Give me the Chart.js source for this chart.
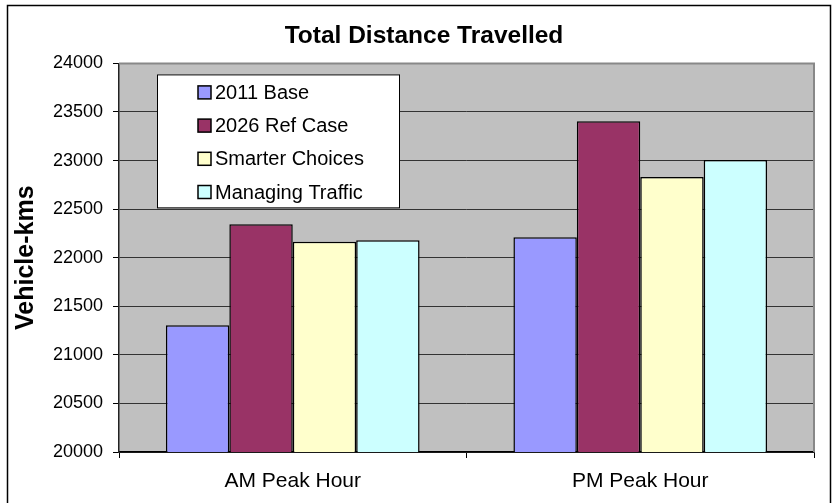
<!DOCTYPE html>
<html>
<head>
<meta charset="utf-8">
<script src="https://cdn.jsdelivr.net/npm/chart.js@4"></script>
<style>
  html, body { margin: 0; padding: 0; background: #fff; }
  #wrap { width: 832px; height: 503px; }
</style>
</head>
<body>
<div id="wrap"><canvas id="c" width="832" height="503"></canvas></div>
<script>
// Vehicle-kms by peak hour and scenario
const categories = ['AM Peak Hour', 'PM Peak Hour'];
const base2011 = [21305, 22210];
const refCase2026 = [22345, 23405];
const smarterChoices = [22165, 22830];
const managingTraffic = [22180, 23005];
const yTicks = [20000, 20500, 21000, 21500, 22000, 22500, 23000, 23500, 24000];

const FONT = "'Liberation Sans', Arial, Helvetica, sans-serif";

// white chart frame, grey plot background and plot border
const framePlugin = {
  id: 'frame',
  beforeDraw(chart) {
    const ctx = chart.ctx, a = chart.chartArea;
    ctx.save();
    ctx.fillStyle = '#ffffff';
    ctx.fillRect(0, 0, chart.width, chart.height);
    ctx.strokeStyle = '#000000';
    ctx.lineWidth = 1.5;
    ctx.strokeRect(7.5, 5.5, 823, 520);
    ctx.fillStyle = '#C0C0C0';
    ctx.fillRect(a.left, a.top, a.right - a.left, a.bottom - a.top);
    ctx.restore();
  },
  beforeDatasetsDraw(chart) {
    const ctx = chart.ctx, a = chart.chartArea;
    ctx.save();
    ctx.strokeStyle = '#888888';
    ctx.lineWidth = 2;
    ctx.beginPath();
    ctx.moveTo(a.left, a.top);
    ctx.lineTo(a.right, a.top);
    ctx.lineTo(a.right, a.bottom);
    ctx.stroke();
    ctx.restore();
  }
};

// boxed legend inside the plot area
const boxLegend = {
  id: 'boxLegend',
  afterDraw(chart) {
    const ctx = chart.ctx, a = chart.chartArea;
    const x0 = a.left + 38, y0 = a.top + 11, w = 242, h = 133;
    ctx.save();
    ctx.fillStyle = '#ffffff';
    ctx.fillRect(x0, y0, w, h);
    ctx.strokeStyle = '#000000';
    ctx.lineWidth = 1;
    ctx.strokeRect(x0 + 0.5, y0 + 0.5, w, h);
    ctx.font = '20px ' + FONT;
    ctx.textBaseline = 'middle';
    ctx.textAlign = 'left';
    chart.data.datasets.forEach((ds, i) => {
      const cy = y0 + 18 + i * 33.2;
      ctx.fillStyle = ds.backgroundColor;
      ctx.fillRect(x0 + 41, cy - 6.5, 13, 13);
      ctx.strokeStyle = '#000';
      ctx.lineWidth = 1.5;
      ctx.strokeRect(x0 + 41, cy - 6.5, 13, 13);
      ctx.fillStyle = '#000';
      ctx.fillText(ds.label, x0 + 58, cy + 1);
    });
    ctx.restore();
  }
};

const mk = (label, data, color) => ({
  label, data,
  backgroundColor: color,
  borderColor: '#000000',
  borderWidth: 1.5,
  borderSkipped: false,
  categoryPercentage: 0.73,
  barPercentage: 1.0
});

new Chart(document.getElementById('c'), {
  type: 'bar',
  data: {
    labels: categories,
    datasets: [
      mk('2011 Base', base2011, '#9999FF'),
      mk('2026 Ref Case', refCase2026, '#993366'),
      mk('Smarter Choices', smarterChoices, '#FFFFCC'),
      mk('Managing Traffic', managingTraffic, '#CCFFFF')
    ]
  },
  options: {
    responsive: false,
    animation: false,
    devicePixelRatio: 1,
    layout: { padding: { left: 16, right: 0, top: 0, bottom: 0 } },
    plugins: {
      legend: { display: false },
      tooltip: { enabled: false },
      title: {
        display: true,
        text: 'Total Distance Travelled',
        color: '#000',
        font: { family: FONT, size: 24.5, weight: 'bold' },
        padding: { top: 22, bottom: 12 }
      }
    },
    scales: {
      x: {
        type: 'category',
        offset: true,
        grid: {
          offset: true,
          drawOnChartArea: false,
          drawTicks: true,
          tickLength: 6,
          color: '#000',
          tickColor: '#000'
        },
        border: { display: true, color: '#000', width: 1.5 },
        ticks: {
          color: '#000',
          font: { family: FONT, size: 21 },
          padding: 11,
          maxRotation: 0
        },
        afterFit(s) { s.height = 51; }
      },
      y: {
        min: 20000,
        max: 24000,
        afterBuildTicks(s) { s.ticks = yTicks.map(v => ({ value: v })); },
        grid: {
          color: '#333',
          tickColor: '#000',
          lineWidth: 1,
          drawTicks: true,
          tickLength: 6
        },
        border: { display: true, color: '#222', width: 1.5 },
        ticks: {
          color: '#000',
          font: { family: FONT, size: 18 },
          padding: 10,
          callback: v => String(v)
        },
        title: {
          display: true,
          text: 'Vehicle-kms',
          color: '#000',
          font: { family: FONT, size: 25, weight: 'bold' },
          padding: { top: -5, bottom: 0 }
        },
        afterFit(s) { s.width = 103; }
      },
      // empty right-hand margin so the chart title sits centred on the frame
      yRight: {
        position: 'right',
        display: true,
        min: 0,
        max: 1,
        grid: { display: false, drawTicks: false },
        border: { display: false },
        ticks: { display: false },
        afterFit(s) { s.width = 18; }
      }
    }
  },
  plugins: [framePlugin, boxLegend]
});
</script>
</body>
</html>
